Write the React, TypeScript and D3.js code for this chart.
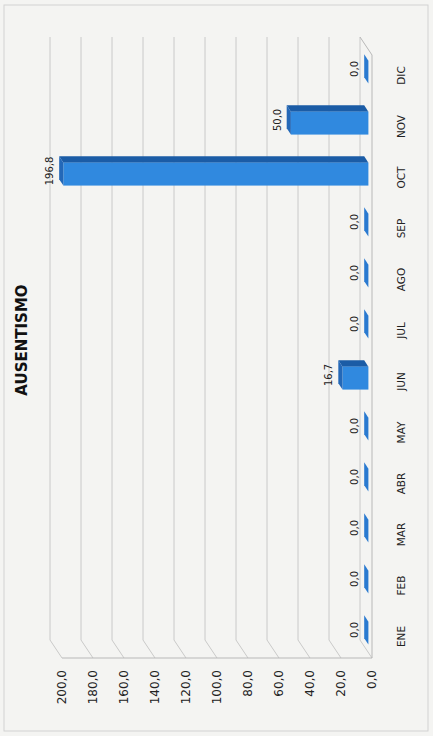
import * as d3 from 'd3'
import React from 'react'

const months = ['ENE', 'FEB', 'MAR', 'ABR', 'MAY', 'JUN', 'JUL', 'AGO', 'SEP', 'OCT', 'NOV', 'DIC']
const values = [0, 0, 0, 0, 0, 16.7, 0, 0, 0, 196.8, 50, 0]
const ticks = [0, 20, 40, 60, 80, 100, 120, 140, 160, 180, 200]
const title = 'AUSENTISMO'

const W = 433, H = 736
// chart is drawn in a logical frame (736 wide, 433 high) and turned -90deg
const depth: [number, number] = [18, -12] // front -> back of the 3D box
const barA = 0.3, barB = 0.65 // bar front / back as fraction of depth

const fmt = (v: number) => d3.format('.1f')(v).replace('.', ',')

export default function App() {
  const
    x = d3.scaleBand<string>().domain(months).range([72, 684]).paddingInner(0.55).paddingOuter(0.275),
    y = d3.scaleLinear().domain([0, 200]).range([372, 62]),
    [dx, dy] = depth,
    x0 = 78, x1 = 681, // front plane horizontal extent
    bw = x.bandwidth(),
    sdx = (barB - barA) * dx, sdy = (barB - barA) * dy

  return (
    <svg width={W} height={H} style={{ position: 'absolute', left: 0, top: 0, display: 'block' }}>
      <rect width={W} height={H} fill='#f4f4f2' />
      <rect x={4} y={5} width={424} height={726} fill='none' stroke='#d2d2d2' strokeWidth={1} />
      <g transform={`translate(0,${H}) rotate(-90)`} fontFamily='DejaVu Sans, sans-serif'>
        <text x={396} y={27} textAnchor='middle' fontWeight='bold' fontSize={15} fill='#111'>{title}</text>

        {/* back wall gridlines + their slant over the side wall */}
        {ticks.map(t => (
          <g key={t} stroke='#c4c4c4' strokeWidth={0.9} fill='none'>
            <line x1={x0 + dx} x2={x1 + dx} y1={y(t) + dy} y2={y(t) + dy} />
            <line x1={x0} x2={x0 + dx} y1={y(t)} y2={y(t) + dy} />
          </g>
        ))}
        {/* floor */}
        <path d={`M${x0},${y(0)}L${x1},${y(0)}L${x1 + dx},${y(0) + dy}`} stroke='#b8b8b8' fill='none' strokeWidth={1} />
        <line x1={x0} x2={x0} y1={y(0)} y2={y(200)} stroke='#b8b8b8' strokeWidth={1} />

        {/* value ticks */}
        {ticks.map(t => (
          <text key={t} x={66} y={y(t)} dy='0.35em' textAnchor='end' fontSize={12} fill='#222'>{fmt(t)}</text>
        ))}

        {/* bars */}
        {months.map((m, i) => {
          const
            v = values[i],
            bx0 = x(m)! + barA * dx,
            bx1 = bx0 + bw,
            yt = y(v) + barA * dy,
            yb = y(0) + barA * dy,
            top = `M${bx0},${yt}L${bx1},${yt}L${bx1 + sdx},${yt + sdy}L${bx0 + sdx},${yt + sdy}Z`,
            side = `M${bx1},${yt}L${bx1 + sdx},${yt + sdy}L${bx1 + sdx},${yb + sdy}L${bx1},${yb}Z`
          return (
            <g key={m}>
              {v > 0 && <path d={side} fill='#1b5ca6' />}
              {v > 0 && <rect x={bx0} y={yt} width={bw} height={yb - yt} fill='#3089df' />}
              <path d={top} fill={v > 0 ? '#2368b8' : '#2a7ad0'} />
              <text x={x(m)! + bw / 2 + (barA + barB) / 2 * dx} y={yt + sdy - 6} textAnchor='middle' fontSize={10} fill='#222'>{fmt(v)}</text>
            </g>
          )
        })}

        {/* categories */}
        {months.map(m => (
          <text key={m} x={x(m)! + bw / 2 + 2} y={405} textAnchor='middle' fontSize={10.5} fill='#222'>{m}</text>
        ))}
      </g>
    </svg>
  )
}
